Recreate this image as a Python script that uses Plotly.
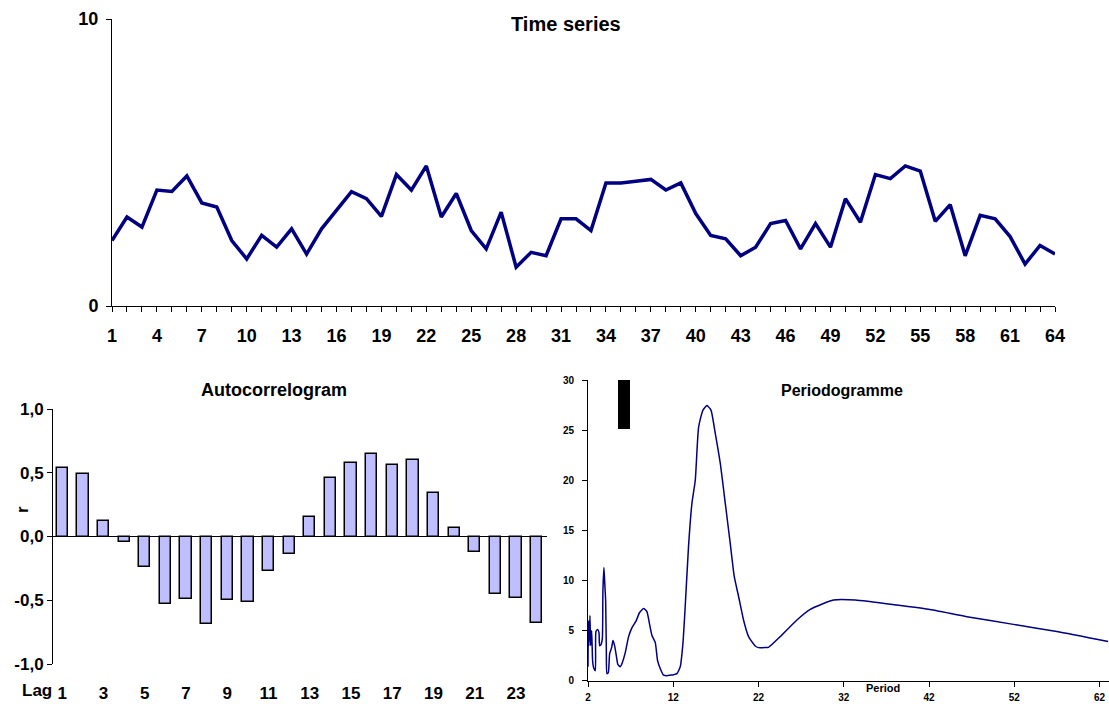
import plotly.graph_objects as go

W, H = 1109, 704
FONT = "Liberation Sans, Arial, sans-serif"

# ---------------- data ----------------
time_index = list(range(1, 65))
time_values = [2.28, 3.10, 2.75, 4.04, 3.99, 4.53, 3.59, 3.45, 2.28, 1.64,
               2.46, 2.05, 2.69, 1.81, 2.69, 3.33, 3.98, 3.74, 3.12, 4.58,
               4.04, 4.88, 3.10, 3.92, 2.63, 1.99, 3.27, 1.35, 1.87, 1.75,
               3.04, 3.04, 2.63, 4.29, 4.29, 4.35, 4.41, 4.04, 4.29, 3.22,
               2.46, 2.34, 1.75, 2.05, 2.87, 2.98, 1.99, 2.87, 2.05, 3.74,
               2.92, 4.58, 4.44, 4.88, 4.70, 2.95, 3.53, 1.75, 3.16, 3.04,
               2.42, 1.46, 2.11, 1.81]
time_tick_labels = [str(i) if (i - 1) % 3 == 0 else "" for i in time_index]

lags = list(range(1, 25))
acf_values = [0.54, 0.49, 0.12, -0.04, -0.24, -0.53, -0.49, -0.69, -0.50, -0.51,
              -0.27, -0.14, 0.15, 0.46, 0.58, 0.65, 0.56, 0.60, 0.34, 0.07,
              -0.12, -0.45, -0.48, -0.68]
acf_tick_vals = [1, 3, 5, 7, 9, 11, 13, 15, 17, 19, 21, 23]
acf_tick_text = ["1", "3", "5", "7", "9", "11", "13", "15", "17", "19", "21", "23"]
acf_y_vals = [-1, -0.5, 0, 0.5, 1]
acf_y_text = ["-1,0", "-0,5", "0,0", "0,5", "1,0"]

period = [2.0, 2.04, 2.11, 2.23, 2.31, 2.43, 2.54, 2.66, 2.86, 2.93, 3.13, 3.29,
          3.36, 3.52, 3.68, 3.75, 3.87, 3.99, 4.07, 4.15, 4.22, 4.38, 4.54, 4.77,
          4.93, 5.12, 5.32, 5.51, 5.79, 6.02, 6.37, 6.76, 7.16, 7.66, 8.05, 8.52,
          8.91, 9.23, 9.50, 9.89, 10.16, 10.48, 10.87, 11.26, 11.65, 12.04, 12.43,
          12.82, 13.13, 13.4, 13.79, 14.19, 14.58, 14.97, 15.48, 15.95, 16.42,
          16.92, 17.51, 18.1, 18.68, 19.15, 19.66, 20.24, 20.83, 21.61, 22.0,
          22.59, 23.17, 24.54, 26.5, 28.06, 30.8, 33.34, 38.22, 41.93, 46.43,
          51.89, 56.98, 63.0]
power = [1.4, 6.0, 3.5, 6.5, 3.5, 5.0, 2.0, 1.3, 1.0, 4.9, 5.1, 4.8,
         3.5, 3.6, 4.2, 9.0, 11.3, 9.3, 8.0, 3.0, 0.7, 0.8, 2.7, 3.3,
         4.0, 3.5, 2.5, 1.6, 1.4, 1.8, 2.8, 4.4, 5.3, 6.0, 6.8, 7.2,
         6.9, 5.6, 4.5, 3.8, 2.0, 1.2, 0.55, 0.5, 0.55, 0.6, 0.7,
         1.4, 3.7, 7.4, 13.4, 17.7, 20.0, 25.3, 27.0, 27.45, 27.0,
         24.7, 21.7, 17.7, 13.7, 10.4, 8.4, 6.06, 4.4, 3.46, 3.3,
         3.3, 3.33, 4.4, 6.06, 7.12, 8.05, 8.05, 7.55, 7.12, 6.39,
         5.62, 4.9, 3.9]
period_ticks = [2, 12, 22, 32, 42, 52, 62]
power_ticks = [0, 5, 10, 15, 20, 25, 30]


def px_x(p):
    return p / W


def px_y(p):
    return 1 - p / H


fig = go.Figure()

# Time series
fig.add_trace(go.Scatter(x=time_index, y=time_values, mode="lines",
                         line=dict(color="#000080", width=3.5),
                         xaxis="x", yaxis="y", showlegend=False, hoverinfo="skip"))

# Autocorrelogram
fig.add_trace(go.Bar(x=lags, y=acf_values, width=0.55,
                     marker=dict(color="#BFBFFF", line=dict(color="black", width=1.5)),
                     xaxis="x2", yaxis="y2", showlegend=False, hoverinfo="skip"))

# Periodogram
fig.add_trace(go.Scatter(x=period, y=power, mode="lines",
                         line=dict(color="#000080", width=1.5, shape="spline", smoothing=0.5),
                         xaxis="x3", yaxis="y3", showlegend=False, hoverinfo="skip"))

axis_common = dict(showgrid=False, linecolor="black", linewidth=1, tickcolor="black",
                   mirror=False, fixedrange=True, automargin=False)

fig.update_layout(
    width=W, height=H,
    margin=dict(l=0, r=0, t=0, b=0, pad=0, autoexpand=False),
    paper_bgcolor="white", plot_bgcolor="white",
    font=dict(family=FONT, color="black"),
    bargap=0,
    xaxis=dict(domain=[px_x(112), px_x(1055)], range=[1, 64], anchor="y",
               showline=True, ticks="outside", ticklen=5,
               tickvals=time_index, ticktext=time_tick_labels,
               tickfont=dict(size=18, family=FONT, weight="bold"),
               ticklabelstandoff=8, zeroline=False, **axis_common),
    yaxis=dict(domain=[px_y(306), px_y(19)], range=[0, 10], anchor="x",
               showline=True, ticks="outside", ticklen=5, tickvals=[0, 10],
               tickfont=dict(size=18, family=FONT, weight="bold"),
               ticklabelstandoff=4, zeroline=False, **axis_common),
    xaxis2=dict(domain=[px_x(52), px_x(547)], range=[0.5, 24.5], anchor="y2",
                showline=False, ticks="", tickvals=acf_tick_vals, ticktext=acf_tick_text,
                tickfont=dict(size=17, family=FONT, weight="bold"),
                ticklabelstandoff=17, zeroline=False, **axis_common),
    yaxis2=dict(domain=[px_y(664), px_y(409)], range=[-1, 1], anchor="free",
                position=px_x(52),
                showline=True, ticks="outside", ticklen=5,
                tickvals=acf_y_vals, ticktext=acf_y_text,
                tickfont=dict(size=17, family=FONT, weight="bold"),
                zeroline=True, zerolinecolor="black", zerolinewidth=1,
                **axis_common),
    xaxis3=dict(domain=[px_x(588), 1.0], range=[2, 63.1], anchor="y3",
                showline=True, ticks="outside", ticklen=5, tickvals=period_ticks,
                tickfont=dict(size=10, family=FONT, weight="bold"),
                ticklabelstandoff=2, zeroline=False, **axis_common),
    yaxis3=dict(domain=[px_y(680.7), px_y(380)], range=[0, 30], anchor="x3",
                showline=True, ticks="outside", ticklen=5, tickvals=power_ticks,
                tickfont=dict(size=10, family=FONT, weight="bold"),
                ticklabelstandoff=6, zeroline=False, **axis_common),
    annotations=[
        dict(text="<b>Time series</b>", x=px_x(566), y=px_y(24), xref="paper", yref="paper",
             showarrow=False, font=dict(size=20, family=FONT), xanchor="center", yanchor="middle"),
        dict(text="<b>Autocorrelogram</b>", x=px_x(274), y=px_y(390), xref="paper", yref="paper",
             showarrow=False, font=dict(size=18, family=FONT), xanchor="center", yanchor="middle"),
        dict(text="<b>Periodogramme</b>", x=px_x(842), y=px_y(390), xref="paper", yref="paper",
             showarrow=False, font=dict(size=16, family=FONT), xanchor="center", yanchor="middle"),
        dict(text="<b>Lag</b>", x=px_x(37), y=px_y(690), xref="paper", yref="paper",
             showarrow=False, font=dict(size=17, family=FONT), xanchor="center", yanchor="middle"),
        dict(text="<b>r</b>", x=px_x(22), y=px_y(510), xref="paper", yref="paper", textangle=-90,
             showarrow=False, font=dict(size=17, family=FONT), xanchor="center", yanchor="middle"),
        dict(text="<b>Period</b>", x=px_x(883), y=px_y(688), xref="paper", yref="paper",
             showarrow=False, font=dict(size=11, family=FONT), xanchor="center", yanchor="middle"),
    ],
    shapes=[
        dict(type="rect", xref="paper", yref="paper",
             x0=px_x(618), x1=px_x(630), y0=px_y(429), y1=px_y(380),
             fillcolor="black", line=dict(width=0)),
    ],
)

fig.write_html("out.html")
